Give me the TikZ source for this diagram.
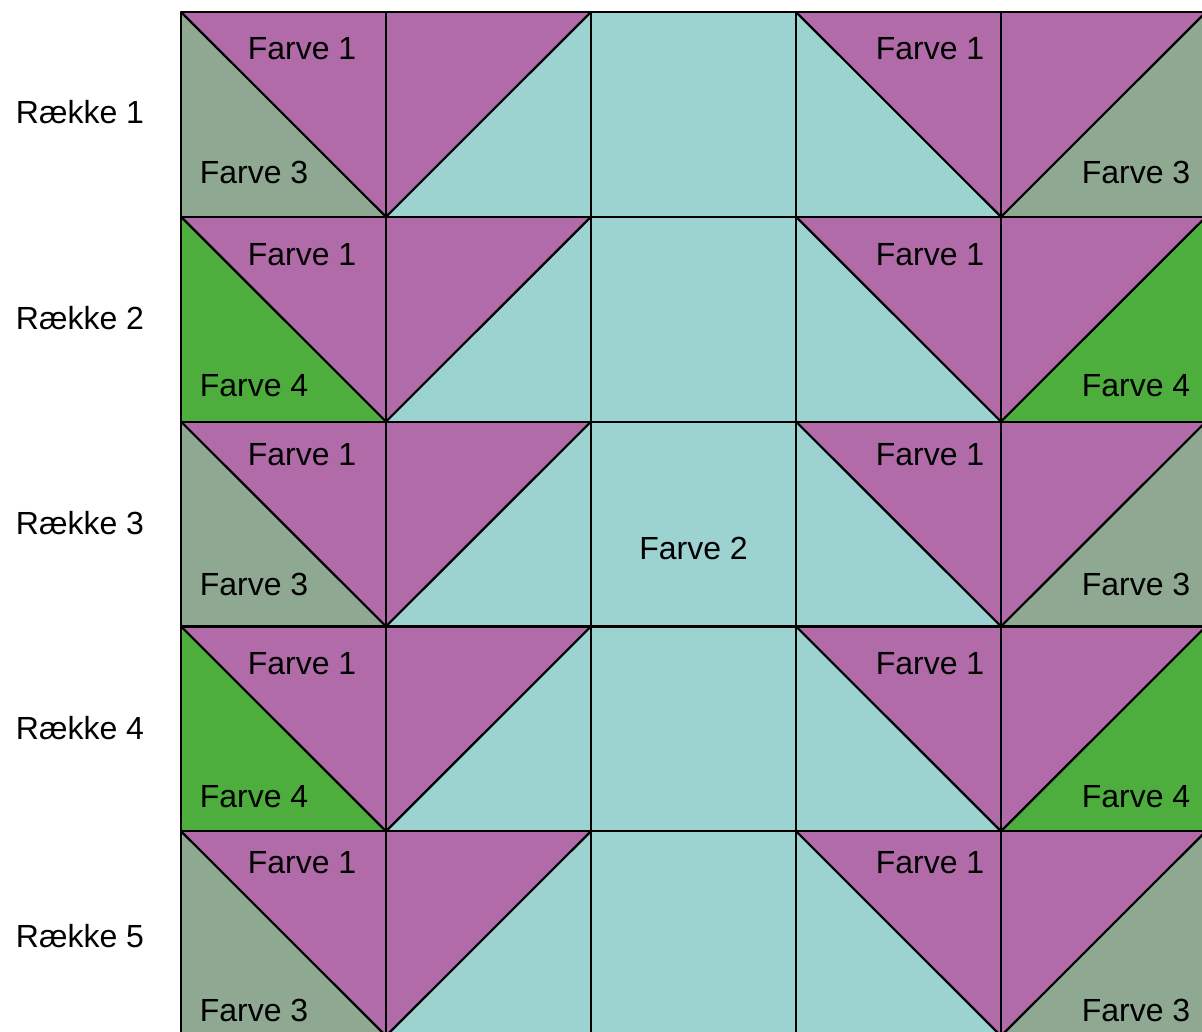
\documentclass[tikz,border=0pt]{standalone}
\usepackage{fontspec}
\setmainfont{Liberation Sans}
\usetikzlibrary{positioning}

\definecolor{farveen}{HTML}{B06BA8}
\definecolor{farveto}{HTML}{9CD3D0}
\definecolor{farvetre}{HTML}{8EA892}
\definecolor{farvefire}{HTML}{4DAE3E}

\begin{document}
\begin{tikzpicture}[
	x=1pt, y=-1pt,
	edge/.style={draw=black, line width=2.2pt, line join=round},
	lbl/.style={font=\fontsize{32}{38}\selectfont, inner sep=0pt}
]
\useasboundingbox (0,0) rectangle (1202,1032);
\clip (0,0) rectangle (1202,1032);

\def\cs{204.8}

% one row of the pattern per step: row, side colour, number, label heights
\foreach \r/\side/\n/\yr/\yo/\yu in {1/farvetre/3/112/49/172, 2/farvefire/4/318/255/386,
		3/farvetre/3/523/455/584, 4/farvefire/4/728/664/797, 5/farvetre/3/936/863/1010} {
	\pgfmathsetmacro{\ya}{12+(\r-1)*\cs}
	\pgfmathsetmacro{\yb}{\ya+\cs}
	% column 1
	\fill[\side] (181,\ya) -- (181,\yb) -- (386,\yb) -- cycle;
	\fill[farveen] (181,\ya) -- (386,\ya) -- (386,\yb) -- cycle;
	% column 2
	\fill[farveen] (386,\ya) -- (591,\ya) -- (386,\yb) -- cycle;
	\fill[farveto] (591,\ya) -- (591,\yb) -- (386,\yb) -- cycle;
	% column 3
	\fill[farveto] (591,\ya) rectangle (796,\yb);
	% column 4
	\fill[farveen] (796,\ya) -- (1001,\ya) -- (1001,\yb) -- cycle;
	\fill[farveto] (796,\ya) -- (796,\yb) -- (1001,\yb) -- cycle;
	% column 5
	\fill[farveen] (1001,\ya) -- (1206,\ya) -- (1001,\yb) -- cycle;
	\fill[\side] (1206,\ya) -- (1206,\yb) -- (1001,\yb) -- cycle;
	% lines
	\draw[edge] (181,\ya) rectangle (1206,\yb);
	\foreach \x in {386, 591, 796, 1001}
		\draw[edge] (\x,\ya) -- (\x,\yb);
	\draw[edge] (181,\ya) -- (386,\yb) -- (591,\ya);
	\draw[edge] (796,\ya) -- (1001,\yb) -- (1206,\ya);
	% texts
	\node[lbl] (raekke-\r) at (80,\yr) {Række \r};
	\node[lbl] (venstre1-\r) at (302,\yo) {Farve 1};
	\node[lbl] (venstre\n-\r) at (254,\yu) {Farve \n};
	\node[lbl] (hoejre1-\r) at (930,\yo) {Farve 1};
	\node[lbl] (hoejre\n-\r) at (1136,\yu) {Farve \n};
}

\node[lbl] (midte) at (693.5,548) {Farve 2};

\end{tikzpicture}
\end{document}
